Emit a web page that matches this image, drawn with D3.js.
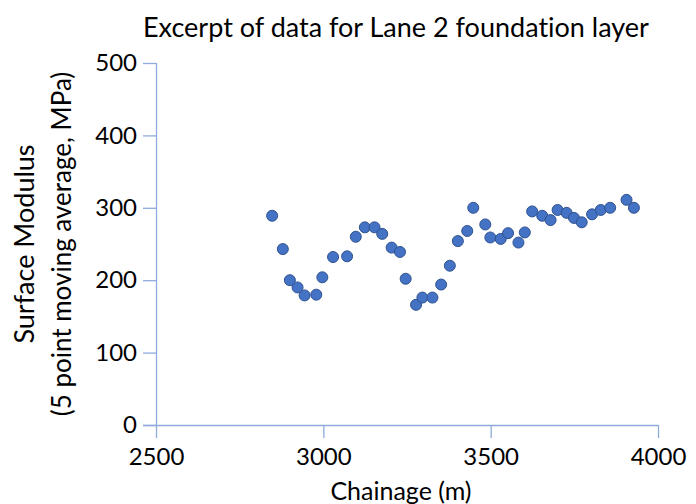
<!DOCTYPE html>
<html>
<head>
<meta charset="utf-8">
<script src="https://cdn.jsdelivr.net/npm/d3@7"></script>
<style>
  html, body { margin: 0; padding: 0; background: #fff; }
  text { font-family: Lato, "Open Sans", sans-serif; fill: #000; font-variant-ligatures: none; }
</style>
</head>
<body>
<svg id="chart" width="696" height="504"></svg>
<script>
const chainage = [2847, 2879, 2900, 2923, 2944, 2979, 2997, 3029, 3071, 3097,
  3124, 3153, 3176, 3204, 3229, 3246, 3277, 3296, 3326, 3352,
  3378, 3402, 3430, 3448, 3484, 3499, 3530, 3552, 3583, 3602,
  3624, 3654, 3679, 3700, 3727, 3749, 3772, 3803, 3829, 3857,
  3906, 3928];
const modulus = [289, 243, 200, 190, 179, 180, 204, 232, 233, 260,
  273, 273, 264, 245, 239, 202, 166, 176, 176, 194,
  220, 254, 268, 300, 277, 259, 257, 265, 252, 266,
  295, 289, 283, 297, 293, 286, 280, 291, 297, 300,
  311, 300];
const xTicks = [2500, 3000, 3500, 4000];
const yTicks = [0, 100, 200, 300, 400, 500];
const title = "Excerpt of data for Lane 2 foundation layer";
const xTitle = "Chainage (m)";
const yTitle = ["Surface Modulus", "(5 point moving average, MPa)"];

(function () {
const svg = d3.select("#chart");
const mLeft = 156, mRight = 658, mTop = 63, mBottom = 425;
const x = d3.scaleLinear().domain([2500, 4000]).range([mLeft, mRight]);
const y = d3.scaleLinear().domain([0, 500]).range([mBottom, mTop]);
const axisColor = "#8FAADC";

const xAxis = svg.append("g").attr("transform", `translate(0,${mBottom})`)
  .call(d3.axisBottom(x).tickValues(xTicks).tickSize(13).tickPadding(10).tickFormat(d3.format("d")));
const yAxis = svg.append("g").attr("transform", `translate(${mLeft},0)`)
  .call(d3.axisLeft(y).tickValues(yTicks).tickSize(13).tickPadding(6).tickFormat(d3.format("d")));
[xAxis, yAxis].forEach(g => {
  g.select(".domain").attr("stroke", axisColor).attr("stroke-width", 1.3);
  g.selectAll(".tick line").attr("stroke", axisColor).attr("stroke-width", 1.3);
  g.selectAll(".tick text").attr("font-size", 24).attr("font-family", "Lato, sans-serif").attr("fill", "#000");
});
xAxis.select(".domain").attr("d", `M${mLeft - 13},0.5H${mRight}`);
yAxis.select(".domain").attr("d", `M0.5,${mTop}V${mBottom}`);

svg.append("g").selectAll("circle")
  .data(chainage.map((c, i) => [c, modulus[i]]))
  .join("circle")
  .attr("cx", d => x(d[0]))
  .attr("cy", d => y(d[1]))
  .attr("r", 5.5)
  .attr("fill", "#4472C4")
  .attr("stroke", "#2F528F")
  .attr("stroke-width", 1);

svg.append("text").attr("x", 396).attr("y", 37).attr("text-anchor", "middle")
  .attr("font-size", 27).text(title);
svg.append("text").attr("x", 401).attr("y", 500).attr("text-anchor", "middle")
  .attr("font-size", 25).text(xTitle);
const yt = svg.append("text").attr("transform", "translate(0,244) rotate(-90)")
  .attr("text-anchor", "middle");
yt.append("tspan").attr("x", 0).attr("y", 34).attr("font-size", 27).text(yTitle[0]);
yt.append("tspan").attr("x", 0).attr("y", 71).attr("font-size", 26).text(yTitle[1]);
})();
</script>
</body>
</html>
